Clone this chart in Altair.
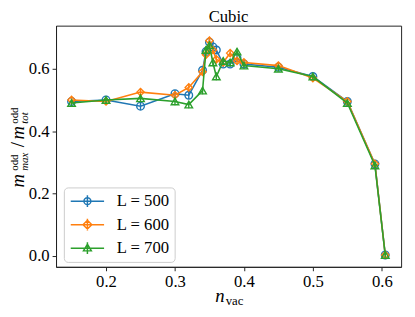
import altair as alt
import pandas as pd

# ---- data ----
n_vac = [0.15, 0.2, 0.25, 0.3, 0.32, 0.34, 0.345, 0.35, 0.355, 0.36, 0.37, 0.38, 0.39, 0.4, 0.45, 0.5, 0.55, 0.59, 0.605]
ratio_500 = [0.495, 0.50, 0.48, 0.52, 0.515, 0.595, 0.655, 0.685, 0.67, 0.66, 0.615, 0.615, 0.635, 0.615, 0.605, 0.575, 0.495, 0.295, 0.003]
ratio_600 = [0.50, 0.495, 0.525, 0.515, 0.54, 0.59, 0.645, 0.69, 0.66, 0.63, 0.62, 0.65, 0.625, 0.62, 0.61, 0.57, 0.495, 0.295, 0.003]
ratio_700 = [0.49, 0.50, 0.505, 0.495, 0.485, 0.53, 0.66, 0.675, 0.62, 0.575, 0.625, 0.62, 0.655, 0.61, 0.60, 0.575, 0.49, 0.29, 0.003]
err_500 = [0.01, 0.01, 0.012, 0.012, 0.012, 0.012, 0.012, 0.012, 0.012, 0.012, 0.01, 0.01, 0.01, 0.01, 0.008, 0.008, 0.008, 0.008, 0.008]
err_600 = [0.01, 0.01, 0.012, 0.012, 0.012, 0.012, 0.012, 0.012, 0.012, 0.012, 0.01, 0.01, 0.01, 0.01, 0.008, 0.008, 0.008, 0.008, 0.008]
err_700 = [0.01, 0.01, 0.012, 0.012, 0.012, 0.012, 0.012, 0.012, 0.012, 0.012, 0.01, 0.01, 0.01, 0.01, 0.008, 0.008, 0.008, 0.008, 0.008]

series_names = ["L = 500", "L = 600", "L = 700"]
colors = ["#1f77b4", "#ff7f0e", "#2ca02c"]
shapes = ["circle", "diamond", "triangle-up"]
sizes = [60, 55, 60]
x_ticks = [0.2, 0.3, 0.4, 0.5, 0.6]
y_ticks = [0.0, 0.2, 0.4, 0.6]
chart_title = "Cubic"

# legend symbols: line + marker + error bar (like matplotlib errorbar handles)
legend_paths = [
    "M-0.875,0H3.375M1.25,-0.75V0.75M1.69,0A0.44,0.44 0 1 1 0.81,0A0.44,0.44 0 1 1 1.69,0",
    "M-0.875,0H3.375M1.25,-0.75V0.75M1.25,-0.56L1.81,0L1.25,0.56L0.69,0Z",
    "M-0.875,0H3.375M1.25,-0.75V0.75M1.25,-0.52L1.75,0.34L0.75,0.34Z",
]

rows = []
for name, ys, es in zip(series_names, [ratio_500, ratio_600, ratio_700], [err_500, err_600, err_700]):
    for xv, yv, ev in zip(n_vac, ys, es):
        rows.append({"series": name, "n": xv, "r": yv, "lo": yv - ev, "hi": yv + ev})
df = pd.DataFrame(rows)

FONT = "Liberation Serif"

x_scale = alt.Scale(domain=[0.1275, 0.628], nice=False, zero=False)
y_scale = alt.Scale(domain=[-0.035, 0.738], nice=False, zero=False)
x_axis = alt.Axis(values=x_ticks, format=".1f", title=None, grid=False)
y_axis = alt.Axis(values=y_ticks, format=".1f", title=None, grid=False)
x_enc = alt.X("n:Q", scale=x_scale, axis=x_axis)
y_enc = alt.Y("r:Q", scale=y_scale, axis=y_axis)

layers = []
for name, c, s, sz in zip(series_names, colors, shapes, sizes):
    base = alt.Chart(df).transform_filter(alt.datum.series == name)
    layers.append(base.mark_line(strokeWidth=1.6, color=c).encode(x=x_enc, y=y_enc))
    layers.append(base.mark_rule(strokeWidth=1.4, color=c).encode(
        x=x_enc, y=alt.Y("lo:Q", scale=y_scale, axis=y_axis), y2="hi:Q"))
    layers.append(base.mark_point(shape=s, filled=False, strokeWidth=1.4, size=sz, color=c, opacity=1)
                  .encode(x=x_enc, y=y_enc))

leg = dict(title=None, orient="none", legendX=8, legendY=165,
           symbolSize=256, symbolStrokeWidth=1.5, labelFont=FONT,
           labelFontSize=17, labelColor="black", labelOffset=31,
           padding=5, rowPadding=6, strokeColor="#cccccc",
           fillColor="white", cornerRadius=4)
legend_layer = alt.Chart(df).transform_filter("false").mark_point(filled=False, strokeWidth=1.5, size=256, opacity=1).encode(
    x=x_enc, y=y_enc,
    color=alt.Color("series:N", scale=alt.Scale(domain=series_names, range=colors), legend=alt.Legend(**leg)),
    shape=alt.Shape("series:N", scale=alt.Scale(domain=series_names, range=legend_paths), legend=alt.Legend(**leg)),
)

def txt(s, x, y, size, italic=False, angle=0, baseline="alphabetic", align="left"):
    return alt.Chart(df).transform_filter("datum.n == 0.15 && datum.series == 'L = 500'").mark_text(
        text=s, font=FONT, fontSize=size, fontStyle="italic" if italic else "normal",
        angle=angle, align=align, baseline=baseline, color="black"
    ).encode(x=alt.value(x), y=alt.value(y))

# chart title
title_parts = [txt(chart_title, 176, -4, 17, align="center")]
# x title n_vac
title_parts += [
    txt("n", 172, 282, 19, italic=True, align="right"),
    txt("vac", 173, 285, 13),
]
# y title m^odd_max / m^odd_tot (rotated)
title_parts += [
    txt("m", -33, 165, 19, italic=True, angle=270),
    txt("odd", -39, 148, 11, angle=270),
    txt("max", -29, 148, 11, italic=True, angle=270),
    txt("/", -33, 124, 19, angle=270),
    txt("m", -33, 116, 19, italic=True, angle=270),
    txt("odd", -39, 100, 11, angle=270),
    txt("tot", -29, 100, 11, italic=True, angle=270),
]

chart = alt.layer(*layers, *title_parts, legend_layer).properties(
    width=352, height=246,
    autosize=alt.AutoSizeParams(type="none"),
    padding={"left": 49, "top": 15, "right": 6, "bottom": 40},
).configure_axis(
    labelFont=FONT, labelFontSize=17, labelColor="black", domainColor="#222222",
    tickColor="#222222", tickSize=4, labelPadding=3, domainWidth=1, tickWidth=1,
).configure_view(stroke="#222222", strokeWidth=1)

chart.save("out.html", embed_options={"renderer": "svg", "actions": False})
